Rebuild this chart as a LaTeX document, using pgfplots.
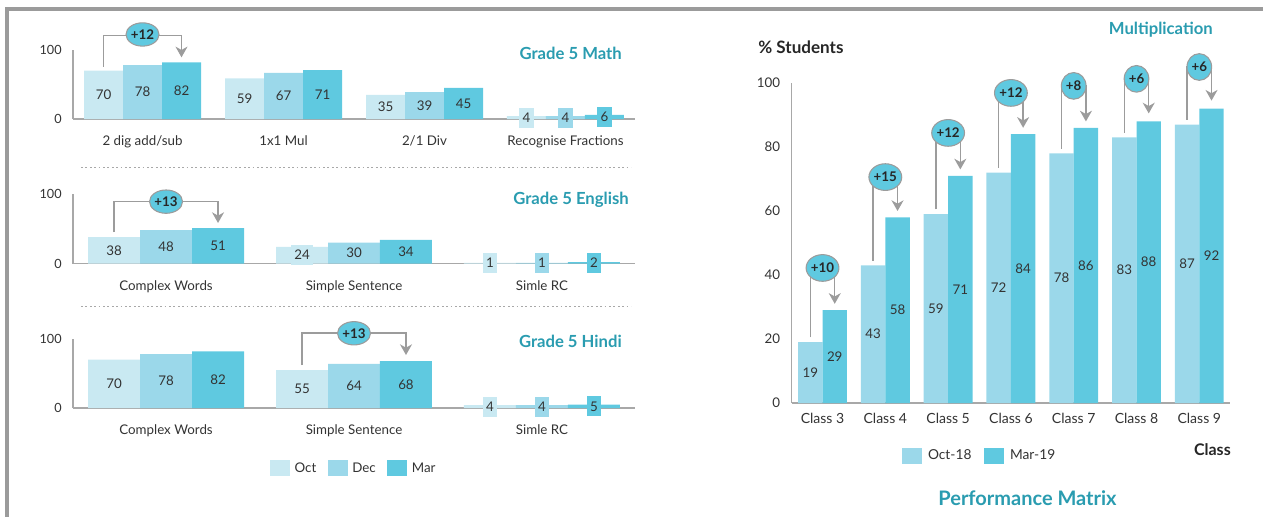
\documentclass[border=0pt]{standalone}
\usepackage{fontspec}
\setmainfont{Lato}
\usepackage{pgfplots}
\pgfplotsset{compat=1.18}
\usepackage{pgfplotstable}
\usetikzlibrary{arrows.meta,shapes.geometric}

\definecolor{octc}{HTML}{C9E9F2}
\definecolor{decc}{HTML}{9BD8EA}
\definecolor{marc}{HTML}{5FC9E0}
\definecolor{ttl}{HTML}{2A9CB0}
\definecolor{axg}{HTML}{A8A8A8}
\definecolor{brk}{HTML}{9C9C9C}
\definecolor{txt}{HTML}{333333}
\definecolor{frm}{HTML}{9B9B9B}

% left panels: group, Oct, Dec, Mar
\pgfplotstableread{
x oct dec mar
0 70 78 82
1 59 67 71
2 35 39 45
3 4 4 6
}\mathdata
\pgfplotstableread{
x oct dec mar
0 38 48 51
1 24 30 34
2 1 1 2
}\engdata
\pgfplotstableread{
x oct dec mar
0 70 78 82
1 55 64 68
2 4 4 5
}\hindata
% right: Oct-18, Mar-19
\pgfplotstableread{
x oct mar
0 19 29
1 43 58
2 59 71
3 72 84
4 78 86
5 83 88
6 87 92
}\classdata

\tikzset{
  brkl/.style={draw=brk, line width=1.1pt, -{Stealth[length=8pt,width=9pt,inset=2.5pt]}},
  bub/.style={ellipse, fill=marc, draw=brk, line width=0.8pt, inner sep=0pt,
    minimum width=24.75pt, minimum height=17.5pt, text=black!85,
    font=\bfseries\fontsize{10}{12}\selectfont},
  rbub/.style={bub, minimum width=24pt, minimum height=20pt},
}

\pgfplotsset{
  base/.style={scale only axis, clip=false,
    axis x line=bottom, axis y line=left,
    axis line style={axg, line width=0.9pt, -},
    major tick length=0pt, ymin=0, ymax=100,
    /pgf/number format/assume math mode=true,
    tick label style={text=txt},
    yticklabel style={font=\fontsize{9.5}{11}\selectfont, xshift=-5pt},
    legend style={draw=none, fill=none, inner sep=0pt, outer sep=0pt,
      font=\fontsize{10}{12}\selectfont, text=txt, anchor=west,
      /tikz/every odd column/.append style={column sep=1.5pt},
      /tikz/every even column/.append style={column sep=6.5pt}},
    legend columns=-1},
  panel/.style={base, width=421.5pt, ytick={0,100},
    xticklabel style={anchor=base, yshift=-20pt, font=\fontsize{10}{12}\selectfont}},
  vlab/.style={draw=none, mark=none, forget plot, nodes near coords,
    point meta=explicit,
    nodes near coords style={anchor=center, fill=#1, text=txt,
      font=\fontsize{10}{12}\selectfont, inner xsep=2.5pt, inner ysep=3.9pt}},
}

% bars plus their value labels at mid height
\newcommand\barset[5]{%
  \addplot[ybar, bar width=#4, bar shift=#3, fill=#5, draw=none,
    legend image code/.code={\fill[#5] (0pt,-6pt) rectangle (15pt,6pt);}]
    table[x=x, y=#2] {#1};
  \addplot[vlab=#5] table[x expr=\thisrow{x}+(#3), y expr=\thisrow{#2}/2, meta=#2] {#1};
}

\begin{document}
\begin{tikzpicture}
\begin{scope}[x=0.75pt, y=-0.75pt]
  \useasboundingbox (0,0) rectangle (1263,517);
  \draw[frm, line width=2.6pt] (5,9) -- (1263,9);
  \draw[frm, line width=3pt] (7,9) -- (7,517);
  \draw[axg, line width=0.9pt, dash pattern=on 1.3pt off 2pt] (81,167.7) -- (631,167.7);
  \draw[axg, line width=0.9pt, dash pattern=on 1.3pt off 2pt] (81,306.7) -- (631,306.7);
  \begin{scope}[every node/.style={inner sep=0pt, text=ttl, font=\bfseries\fontsize{12.5}{15}\selectfont}]
    \node[anchor=base east] at (622,60) {Grade 5 Math};
    \node[anchor=base east] at (629,204.5) {Grade 5 English};
    \node[anchor=base east] at (622,347.5) {Grade 5 Hindi};
    \node[anchor=base east] at (1213,35) {Multiplication};
    \node[anchor=base, font=\bfseries\fontsize{15}{18}\selectfont] at (1027.5,505.7) {Performance Matrix};
    \node[anchor=base west, text=black!85, font=\bfseries\fontsize{12.8}{15}\selectfont] at (758,54) {\% Students};
    \node[anchor=base east, text=black!85, font=\bfseries\fontsize{12}{14}\selectfont] at (1231,455) {Class};
  \end{scope}
\end{scope}

% Grade 5 Math
\begin{axis}[panel, at={(54.75pt,-89.25pt)}, anchor=south west, height=51.75pt,
  xmin=-0.493, xmax=3.493, xtick={0,1,2,3},
  xticklabels={2 dig add/sub, 1x1 Mul, 2/1 Div, Recognise Fractions}]
  \barset{\mathdata}{oct}{-0.2766}{0.2766}{octc}
  \barset{\mathdata}{dec}{0}{0.2766}{decc}
  \barset{\mathdata}{mar}{0.2766}{0.2766}{marc}
  \draw[brkl] (axis cs:-0.2766,76) |- (axis cs:0.2766,120.7) -- (axis cs:0.2766,89.4);
  \node[bub] at (axis cs:0,122.5) {+12};
\end{axis}

% Grade 5 English
\begin{axis}[panel, at={(54.75pt,-197.625pt)}, anchor=south west, height=52.125pt,
  xmin=-0.495, xmax=2.495, xtick={0,1,2},
  xticklabels={Complex Words, Simple Sentence, Simle RC}]
  \barset{\engdata}{oct}{-0.2766}{0.2766}{octc}
  \barset{\engdata}{dec}{0}{0.2766}{decc}
  \barset{\engdata}{mar}{0.2766}{0.2766}{marc}
  \draw[brkl] (axis cs:-0.2766,45) |- (axis cs:0.2766,89) -- (axis cs:0.2766,58.3);
  \node[bub] at (axis cs:0,89) {+13};
\end{axis}

% Grade 5 Hindi
\begin{axis}[panel, at={(54.75pt,-306pt)}, anchor=south west, height=51.75pt,
  xmin=-0.495, xmax=2.495, xtick={0,1,2},
  xticklabels={Complex Words, Simple Sentence, Simle RC},
  legend style={at={(0.3505,-0.875)}}]
  \barset{\hindata}{oct}{-0.2766}{0.2766}{octc}
  \addlegendentry{Oct}
  \barset{\hindata}{dec}{0}{0.2766}{decc}
  \addlegendentry{Dec}
  \barset{\hindata}{mar}{0.2766}{0.2766}{marc}
  \addlegendentry{Mar}
  \draw[brkl] (axis cs:0.7234,62.3) |- (axis cs:1.2766,109) -- (axis cs:1.2766,76.8);
  \node[bub] at (axis cs:1,108.3) {+13};
\end{axis}

% Multiplication
\begin{axis}[base, at={(593.625pt,-302.25pt)}, anchor=south west,
  width=328.875pt, height=240pt,
  xmin=-0.494, xmax=6.489, xtick={0,...,6}, ytick={0,20,...,100},
  xticklabels={Class 3, Class 4, Class 5, Class 6, Class 7, Class 8, Class 9},
  xticklabel style={anchor=base, yshift=-15.2pt, font=\fontsize{10.5}{12}\selectfont},
  yticklabel style={font=\fontsize{10}{12}\selectfont},
  legend style={at={(0.252,-0.1656)}, font=\fontsize{10.3}{12}\selectfont,
    /tikz/every odd column/.append style={column sep=2.5pt},
    /tikz/every even column/.append style={column sep=7.5pt}}]
  \barset{\classdata}{oct}{-0.1945}{0.389}{decc}
  \addlegendentry{Oct-18}
  \barset{\classdata}{mar}{0.1945}{0.389}{marc}
  \addlegendentry{Mar-19}
  \draw[brkl] (axis cs:-0.1945,20.5) |- (axis cs:0.1945,42.2) -- (axis cs:0.1945,31);
  \node[rbub] at (axis cs:0,42.2) {+10};
  \draw[brkl] (axis cs:0.8055,44.5) |- (axis cs:1.1945,70.6) -- (axis cs:1.1945,60);
  \node[rbub] at (axis cs:1,70.6) {+15};
  \draw[brkl] (axis cs:1.8055,60.5) |- (axis cs:2.1945,84.4) -- (axis cs:2.1945,73);
  \node[rbub] at (axis cs:2,84.4) {+12};
  \draw[brkl] (axis cs:2.8055,73.5) |- (axis cs:3.1945,96.9) -- (axis cs:3.1945,86);
  \node[rbub] at (axis cs:3,96.9) {+12};
  \draw[brkl] (axis cs:3.8055,79.5) |- (axis cs:4.1945,99.1) -- (axis cs:4.1945,88);
  \node[rbub, minimum width=18.5pt] at (axis cs:4,99.1) {+8};
  \draw[brkl] (axis cs:4.8055,84.5) |- (axis cs:5.1945,101.3) -- (axis cs:5.1945,90.5);
  \node[rbub, minimum width=18.5pt] at (axis cs:5,101.3) {+6};
  \draw[brkl] (axis cs:5.8055,88.5) |- (axis cs:6.1945,105) -- (axis cs:6.1945,94.5);
  \node[rbub, minimum width=18.5pt] at (axis cs:6,105) {+6};
\end{axis}
\end{tikzpicture}
\end{document}
